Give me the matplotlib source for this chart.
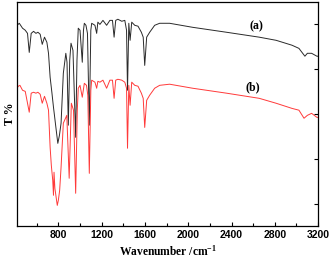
import matplotlib
matplotlib.use("Agg")
import matplotlib.pyplot as plt
from matplotlib.ticker import MultipleLocator

# FTIR spectra, values
wn_a = [418, 439, 469, 494, 515, 531, 549, 571, 593, 611, 632, 651, 672, 694,
        709, 724, 740, 748, 755, 764, 775, 795, 810, 825, 846, 869, 880, 892,
        905, 917, 935, 960, 972, 984, 1000, 1021, 1032, 1040, 1055, 1069, 1086,
        1100, 1108, 1138, 1154, 1165, 1184, 1212, 1246, 1276, 1300, 1315, 1330,
        1350, 1386, 1414, 1430, 1439, 1451, 1463, 1478, 1506, 1536, 1567, 1584,
        1598, 1616, 1644, 1690, 1736, 1828, 2041, 2353, 2656, 2812, 2959, 3023,
        3078, 3101, 3140, 3189, 3200]
t_a = [89.6, 90.5, 88.3, 87.4, 86.0, 77.5, 86.0, 86.9, 86.0, 86.5, 85.6, 81.1,
       84.3, 82.0, 77.1, 66.4, 59.7, 56.1, 53.0, 49.4, 44.9, 36.9, 40.5, 45.9,
       68.2, 77.1, 73.1, 45.0, 74.0, 81.6, 78.4, 39.6, 74.0, 88.3, 87.4, 73.1,
       87.4, 90.5, 89.6, 86.0, 45.0, 87.4, 90.5, 89.6, 86.0, 91.0, 90.0, 91.8,
       89.6, 91.8, 91.8, 84.3, 91.8, 92.3, 91.4, 91.8, 87.4, 60.6, 90.5, 82.9,
       91.0, 89.6, 89.2, 86.5, 84.3, 71.7, 84.3, 86.5, 89.6, 90.5, 90.5, 88.7,
       86.5, 84.3, 82.9, 80.7, 79.3, 75.8, 77.1, 77.1, 75.8, 75.8]

wn_b = [418, 430, 445, 469, 494, 531, 549, 571, 593, 611, 632, 651, 672, 694,
        709, 724, 735, 748, 755, 760, 768, 790, 800, 812, 825, 846, 878, 900,
        920, 940, 960, 975, 984, 1000, 1021, 1040, 1060, 1072, 1086, 1100, 1108,
        1138, 1154, 1165, 1184, 1212, 1246, 1276, 1300, 1315, 1330, 1350, 1386,
        1414, 1430, 1439, 1451, 1463, 1478, 1506, 1536, 1567, 1584, 1598, 1616,
        1644, 1690, 1736, 1828, 2041, 2353, 2656, 2812, 2959, 3023, 3070, 3101,
        3140, 3189, 3200]
t_b = [61.5, 62.4, 62.8, 60.6, 60.1, 50.8, 59.3, 59.7, 59.3, 59.7, 58.8, 54.8,
       57.9, 54.8, 51.7, 35.1, 27.1, 20.4, 13.7, 24.0, 16.8, 9.2, 11.5, 15.9,
       26.2, 45.9, 49.4, 21.3, 54.8, 51.7, 14.6, 51.7, 61.5, 62.8, 57.5, 63.7,
       62.8, 58.4, 23.5, 60.6, 65.1, 64.2, 61.5, 64.6, 64.2, 65.1, 61.5, 65.1,
       65.1, 57.0, 65.1, 65.5, 65.1, 64.2, 61.5, 34.7, 62.8, 53.9, 64.2, 62.8,
       62.4, 59.3, 57.0, 44.0, 56.1, 58.4, 61.5, 62.8, 63.3, 61.5, 59.3, 57.0,
       54.8, 52.5, 51.7, 48.1, 49.4, 50.3, 48.5, 48.5]

plt.rcParams['mathtext.fontset'] = 'custom'
plt.rcParams['mathtext.rm'] = 'Liberation Serif:bold'
plt.rcParams['mathtext.it'] = 'Liberation Serif:bold'
plt.rcParams['mathtext.bf'] = 'Liberation Serif:bold'

fig = plt.figure(figsize=(3.31, 2.60), dpi=100)
ax = fig.add_axes([0.0514, 0.1308, 0.9096, 0.8615])

ax.plot(wn_a, t_a, color='#2a2a2a', lw=0.7)
ax.plot(wn_b, t_b, color='#ff3a3a', lw=0.7)

ax.set_xlim(418, 3200)
ax.set_ylim(0, 100)
ax.xaxis.set_major_locator(MultipleLocator(400))
ax.xaxis.set_minor_locator(MultipleLocator(200))
ax.set_xticks([800, 1200, 1600, 2000, 2400, 2800, 3200])
ax.set_yticks([10, 30, 50, 70, 90])
ax.tick_params(axis='x', which='major', direction='in', length=3, width=0.8,
               pad=3, labelsize=7.5)
ax.tick_params(axis='x', which='minor', direction='in', length=2, width=0.8)
ax.tick_params(axis='y', direction='in', length=3, width=0.8, left=False,
               right=True, labelleft=False)
for lab in ax.get_xticklabels():
    lab.set_fontfamily('Liberation Sans')
    lab.set_fontweight('bold')
for s in ax.spines.values():
    s.set_linewidth(0.9)

ax.set_xlabel(r'Wavenumber /cm$^{-1}$', fontfamily='Liberation Serif',
              fontweight='bold', fontsize=8.3, labelpad=3)
ax.set_ylabel('T %', fontfamily='Liberation Serif', fontweight='bold',
              fontsize=8.5, labelpad=1)

ax.text(2628, 89.0, '(a)', fontfamily='Liberation Serif', fontweight='bold',
        fontsize=8.5, ha='center', va='center')
ax.text(2600, 62.0, '(b)', fontfamily='Liberation Serif', fontweight='bold',
        fontsize=8.5, ha='center', va='center')

fig.savefig('out.png', dpi=100)
